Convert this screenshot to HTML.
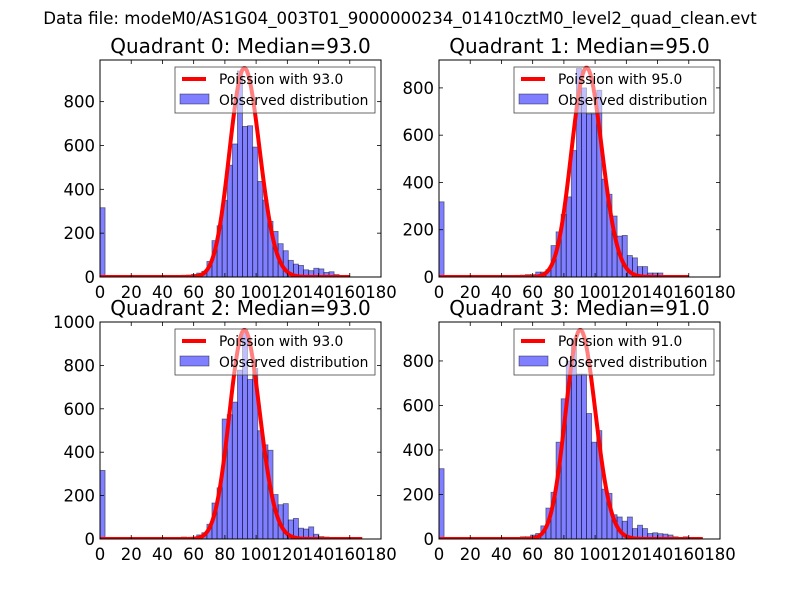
<!DOCTYPE html>
<html><head><meta charset="utf-8"><style>
html,body{margin:0;padding:0;background:#fff;}
svg{display:block;font-family:"DejaVu Sans","Liberation Sans",sans-serif;}
</style></head><body>
<svg id="fig" width="800" height="600" viewBox="0 0 800 600" xmlns="http://www.w3.org/2000/svg">
<rect width="800" height="600" fill="#fff"/>
<text x="400" y="24" font-size="16.6" text-anchor="middle">Data file: modeM0/AS1G04_003T01_9000000234_01410cztM0_level2_quad_clean.evt</text>
</svg>
<script>
const binWidth = 3.26;
const medians = [93.0, 95.0, 93.0, 91.0];
const curvePeaks = [953, 885, 963, 939];
const curveEnds = [160, 160, 168, 169];
const yMaxes = [990, 918, 1000, 975];
const yTicks = [[0,200,400,600,800],[0,200,400,600,800],[0,200,400,600,800,1000],[0,200,400,600,800]];
const xTicks = [0,20,40,60,80,100,120,140,160,180];
const q0Counts = [316,0,0,0,0,0,0,0,0,0,0,0,0,0,6,5,8,9,12,18,26,71,166,234,350,510,607,940,687,690,593,436,351,254,208,152,120,76,59,53,33,29,40,37,21,24,11,5,0,0];
const q1Counts = [318,0,0,0,0,0,0,0,0,0,0,0,0,0,4,7,8,10,10,21,21,31,133,191,265,339,535,882,800,690,690,790,414,350,258,173,176,91,81,44,44,17,17,17,4,0,0,0,0,0];
const q2Counts = [316,0,0,0,0,0,0,0,0,0,0,0,0,0,0,0,9,6,6,19,29,68,166,236,553,573,631,778,964,735,786,499,434,409,205,158,163,88,95,50,46,56,22,11,9,0,0,0,0,0];
const q3Counts = [316,0,0,0,0,0,0,0,0,0,0,0,0,0,0,0,10,10,18,25,59,139,210,435,630,800,900,741,741,564,435,487,224,205,109,99,80,99,47,62,47,25,28,24,22,18,10,4,10,0];
const allCounts = [q0Counts, q1Counts, q2Counts, q3Counts];

const NS = 'http://www.w3.org/2000/svg';
const svg = document.getElementById('fig');
function mk(tag, attrs, parent){
  const e = document.createElementNS(NS, tag);
  for (const k in attrs) e.setAttribute(k, attrs[k]);
  (parent||svg).appendChild(e);
  return e;
}
const boxes = [[100,60,381,277],[439,60,720,277],[100,322,381,539],[439,322,720,539]];

for (let q=0;q<4;q++){
  const [L,T,R,B] = boxes[q];
  const yMax = yMaxes[q];
  const xs = v => L + v/180*(R-L);
  const ys = v => B - v/yMax*(B-T);
  const g = mk('g',{});
  
  
  const clipId = 'clip'+q;
  const cp = mk('clipPath',{id:clipId},g);
  mk('rect',{x:L,y:T,width:R-L,height:B-T},cp);
  const plot = mk('g',{'clip-path':'url(#'+clipId+')'},g);
  const counts = allCounts[q];
  counts.forEach((c,i)=>{
    if (c<=0) return;
    const x0 = xs(i*binWidth), x1 = xs((i+1)*binWidth);
    const r = mk('rect',{x:x0,y:ys(c),width:x1-x0,height:ys(0)-ys(c),fill:'rgba(0,0,255,0.5)',stroke:'rgba(0,0,0,0.5)','stroke-width':'0.8'},plot);
    
    
  });
  const lam = medians[q];
  const pm = [];
  let p = Math.exp(-lam);
  for (let k=0;k<=curveEnds[q];k++){ if(k>0) p = p*lam/k; pm.push(p); }
  const pk = Math.max(...pm);
  let d = '';
  pm.forEach((v,k)=>{ d += (k?'L':'M') + xs(k).toFixed(2)+','+ys(v/pk*curvePeaks[q]).toFixed(2); });
  const line = mk('path',{d:d,fill:'none',stroke:'#f00','stroke-width':'4','stroke-linejoin':'round'},plot);
  
  
  mk('rect',{x:L,y:T,width:R-L,height:B-T,fill:'none',stroke:'#000','stroke-width':'1'},g);
  xTicks.forEach(t=>{
    const x = xs(t);
    mk('line',{x1:x,x2:x,y1:B,y2:B-4,stroke:'#000','stroke-width':'0.8'},g);
    mk('line',{x1:x,x2:x,y1:T,y2:T+4,stroke:'#000','stroke-width':'0.8'},g);
    const tx = mk('text',{x:x,y:B+21,'font-size':'16.5','text-anchor':'middle'},g);
    tx.textContent = t;
    
    
  });
  yTicks[q].forEach(t=>{
    const y = ys(t);
    mk('line',{x1:L,x2:L+4,y1:y,y2:y,stroke:'#000','stroke-width':'0.8'},g);
    mk('line',{x1:R,x2:R-4,y1:y,y2:y,stroke:'#000','stroke-width':'0.8'},g);
    const tx = mk('text',{x:L-5,y:y+6,'font-size':'16.5','text-anchor':'end'},g);
    tx.textContent = t;
    
    
  });
  const ti = mk('text',{x:(L+R)/2,y:T-7,'font-size':'20','text-anchor':'middle'},g);
  ti.textContent = 'Quadrant '+q+': Median='+medians[q].toFixed(1);
  
  
  const lg = mk('g',{},g);
  
  
  const lx = R-206, ly = T+7;
  mk('rect',{x:lx,y:ly,width:200,height:46,fill:'rgba(255,255,255,0.5)',stroke:'#444','stroke-width':'0.8'},lg);
  mk('line',{x1:lx+7,x2:lx+31,y1:ly+12,y2:ly+12,stroke:'#f00','stroke-width':'4'},lg);
  const t1 = mk('text',{x:lx+44,y:ly+17,'font-size':'13.8'},lg);
  t1.textContent = 'Poission with '+medians[q].toFixed(1);
  
  
  mk('rect',{x:lx+5,y:ly+27,width:29,height:10,fill:'rgba(0,0,255,0.5)',stroke:'rgba(0,0,0,0.5)','stroke-width':'0.8'},lg);
  const t2 = mk('text',{x:lx+44,y:ly+38,'font-size':'13.8'},lg);
  t2.textContent = 'Observed distribution';
  
  
}
</script>
</body></html>
